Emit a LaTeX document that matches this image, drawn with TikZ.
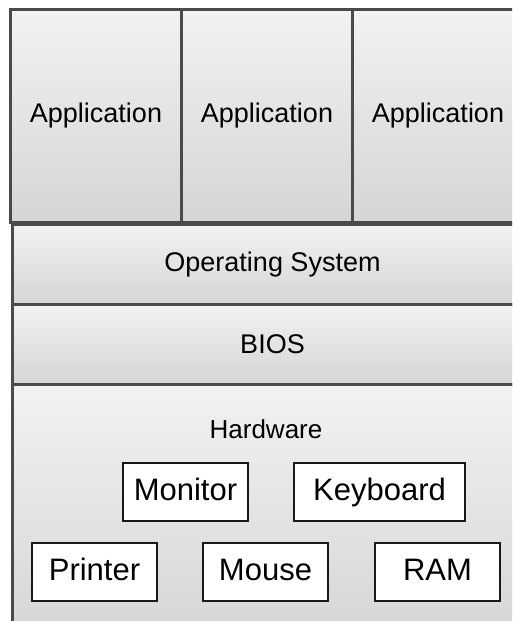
\documentclass[tikz,border=0pt]{standalone}
\usepackage{fontspec}
\setmainfont{Liberation Sans}
\definecolor{edge}{HTML}{4A4A4A}
\definecolor{topg}{HTML}{F2F2F2}
\definecolor{botg}{HTML}{D5D5D5}
\tikzset{
  layer/.style={rectangle, draw=edge, line width=3pt, top color=topg, bottom color=botg,
    inner sep=0pt, anchor=north west, font=\fontsize{27}{32}\selectfont},
  device/.style={rectangle, draw=black!90, line width=1.8pt, fill=white, inner sep=0pt,
    minimum height=58pt, text height=22pt, text depth=6pt, font=\fontsize{31}{36}\selectfont},
}
\begin{document}
\begin{tikzpicture}[x=1pt,y=-1pt]
\useasboundingbox (0,0) rectangle (512,621);
\clip (0,0) rectangle (512,621);
% lower layers
\node[layer, minimum width=520pt, minimum height=257pt] (hw) at (11,383) {};
\node[layer, minimum width=520pt, minimum height=80pt] (bios) at (11,303) {BIOS};
\node[layer, minimum width=520pt, minimum height=80pt] (os) at (11,223) {Operating System};
% applications
\node[layer, minimum width=171pt, minimum height=213pt] (app1) at (9,8) {Application};
\node[layer, minimum width=171pt, minimum height=213pt] (app2) at (180,8) {Application};
\node[layer, minimum width=171pt, minimum height=213pt] (app3) at (351,8) {Application};
% hardware contents
\node[font=\fontsize{26}{30}\selectfont] (hwlabel) at (266,429) {Hardware};
\node[device, minimum width=125pt] (monitor) at (185.5,492) {Monitor};
\node[device, minimum width=171pt] (keyboard) at (379.5,492) {Keyboard};
\node[device, minimum width=125pt] (printer) at (94.5,572) {Printer};
\node[device, minimum width=125pt] (mouse) at (265.5,572) {Mouse};
\node[device, minimum width=125pt] (ram) at (437.5,572) {RAM};
\end{tikzpicture}
\end{document}
